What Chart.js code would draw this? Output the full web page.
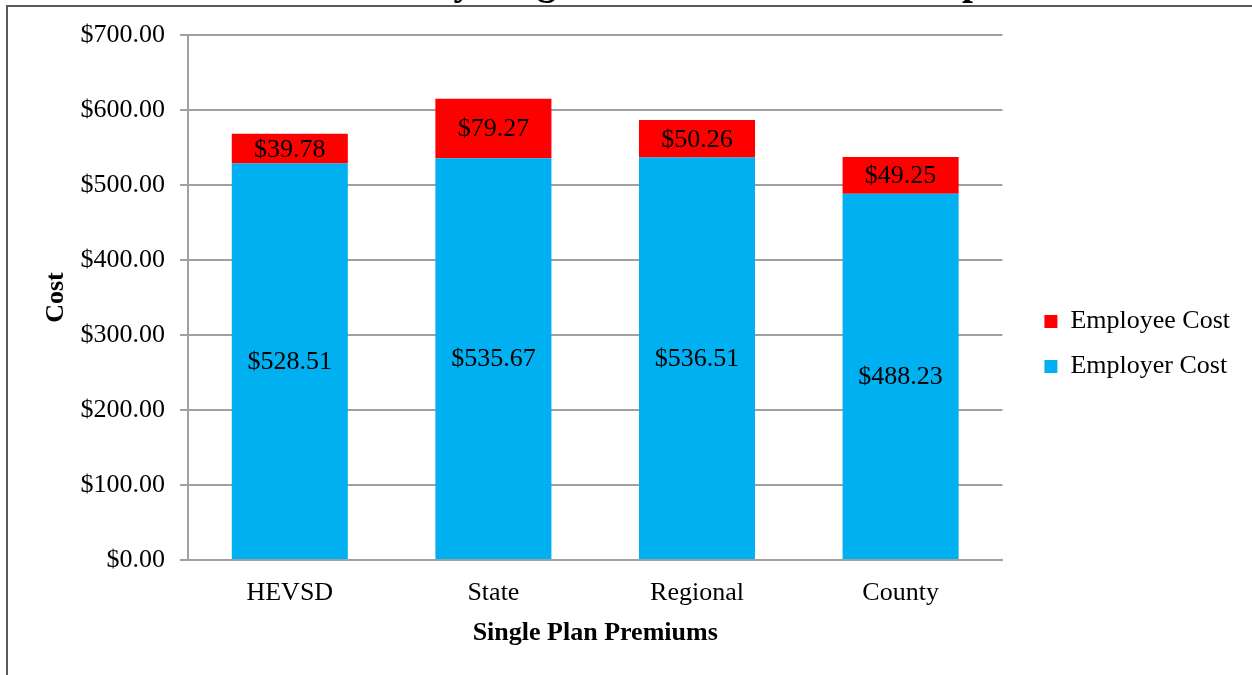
<!DOCTYPE html>
<html>
<head>
<meta charset="utf-8">
<title>Monthly Single Health Premium Comparison</title>
<script src="https://cdn.jsdelivr.net/npm/chart.js@4/dist/chart.umd.min.js"></script>
<style>
  html, body { margin: 0; padding: 0; background: #ffffff; }
  #wrap { width: 1252px; height: 675px; }
</style>
</head>
<body>
<div id="wrap"><canvas id="premiumChart" width="1252" height="675"></canvas></div>
<script>
const categories = ['HEVSD', 'State', 'Regional', 'County'];
const employerCost = [528.51, 535.67, 536.51, 488.23];
const employeeCost = [39.78, 79.27, 50.26, 49.25];
const yTicks = [0, 100, 200, 300, 400, 500, 600, 700];

const serif = 'Liberation Serif, "Times New Roman", Times, serif';
const gridGray = '#a0a0a0';

const money = v => '$' + Number(v).toFixed(2);

// outer frame of the chart
const framePlugin = {
    id: 'frame',
    beforeDraw(chart) {
        const ctx = chart.ctx;
        ctx.save();
        ctx.strokeStyle = '#595959';
        ctx.lineWidth = 2;
        ctx.beginPath();
        ctx.moveTo(7, chart.height + 5);
        ctx.lineTo(7, 6);
        ctx.lineTo(chart.width + 5, 6);
        ctx.stroke();
        ctx.restore();
    }
};

// chart heading sits above the frame
const headingPlugin = {
    id: 'heading',
    afterDraw(chart) {
        const ctx = chart.ctx;
        ctx.save();
        ctx.font = 'bold 39px ' + serif;
        ctx.fillStyle = '#000000';
        ctx.textAlign = 'left';
        ctx.textBaseline = 'alphabetic';
        ctx.fillText('Monthly Single Health Premium Comparison', 330, -6);
        ctx.restore();
    }
};

// value printed in the middle of every stacked segment
const segmentLabels = {
    id: 'segmentLabels',
    afterDatasetsDraw(chart) {
        const ctx = chart.ctx;
        ctx.save();
        ctx.font = '26px ' + serif;
        ctx.fillStyle = '#000000';
        ctx.textAlign = 'center';
        ctx.textBaseline = 'middle';
        chart.data.datasets.forEach((ds, i) => {
            chart.getDatasetMeta(i).data.forEach((bar, j) => {
                const p = bar.getProps(['x', 'y', 'base'], true);
                ctx.fillText(money(ds.data[j]), p.x, (p.y + p.base) / 2 + 1);
            });
        });
        ctx.restore();
    }
};

// nudge the legend away from the plot and a little upward
const legendShift = {
    id: 'legendShift',
    afterLayout(chart) {
        const lg = chart.legend;
        if (lg) {
            lg.left += 23;
            lg.right += 23;
            lg.top -= 11;
            lg.bottom -= 11;
        }
    }
};

const config = {
    type: 'bar',
    data: {
        labels: categories,
        datasets: [
            {
                label: 'Employer Cost',
                data: employerCost,
                backgroundColor: '#00b0f0',
                borderWidth: 0
            },
            {
                label: 'Employee Cost',
                data: employeeCost,
                backgroundColor: '#ff0000',
                borderWidth: 0
            }
        ]
    },
    options: {
        responsive: false,
        animation: false,
        events: [],
        layout: {
            padding: { top: 35, right: 35, bottom: 0, left: 0 }
        },
        datasets: {
            bar: { categoryPercentage: 1, barPercentage: 0.57 }
        },
        scales: {
            x: {
                stacked: true,
                grid: { display: false, drawTicks: false },
                border: { display: true, color: gridGray, width: 2 },
                ticks: {
                    color: '#000000',
                    font: { family: serif, size: 26 },
                    padding: 18
                },
                title: {
                    display: true,
                    text: 'Single Plan Premiums',
                    color: '#000000',
                    font: { family: serif, size: 26, weight: 'bold' },
                    padding: { top: 0, bottom: 26 }
                },
                afterFit(scale) { scale.height = 115; }
            },
            y: {
                stacked: true,
                min: 0,
                max: 700,
                afterBuildTicks(scale) { scale.ticks = yTicks.map(v => ({ value: v })); },
                grid: {
                    color: gridGray,
                    lineWidth: 2,
                    tickLength: 8,
                    drawTicks: true
                },
                border: { display: true, color: gridGray, width: 2 },
                ticks: {
                    color: '#000000',
                    font: { family: serif, size: 26 },
                    padding: 15,
                    callback: v => money(v)
                },
                title: {
                    display: true,
                    text: 'Cost',
                    color: '#000000',
                    font: { family: serif, size: 26, weight: 'bold' },
                    padding: { top: 41, bottom: 0 }
                },
                afterFit(scale) { scale.width = 188; }
            }
        },
        plugins: {
            legend: {
                position: 'right',
                reverse: true,
                labels: {
                    color: '#000000',
                    font: { family: serif, size: 26 },
                    boxWidth: 13,
                    boxHeight: 13,
                    padding: 19
                }
            },
            tooltip: { enabled: false }
        }
    },
    plugins: [framePlugin, headingPlugin, segmentLabels, legendShift]
};

const premiumChart = new Chart(document.getElementById('premiumChart'), config);
</script>
</body>
</html>
